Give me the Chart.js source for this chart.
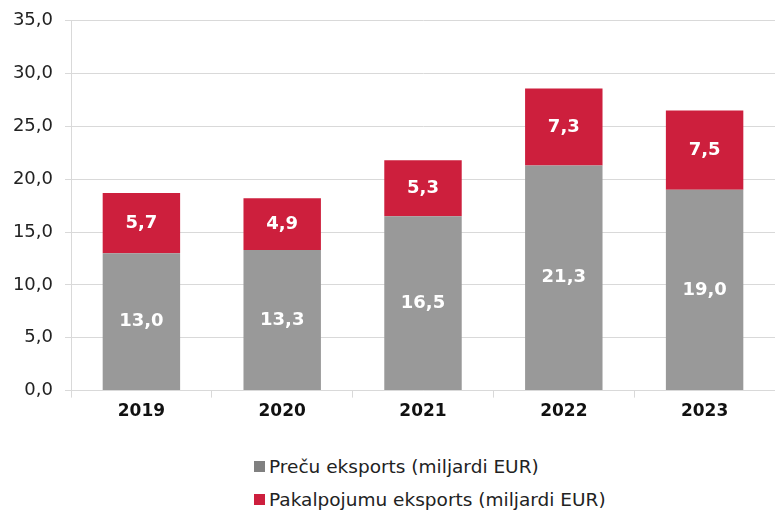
<!DOCTYPE html>
<html>
<head>
<meta charset="utf-8">
<script src="https://cdn.jsdelivr.net/npm/chart.js@4.4.1/dist/chart.umd.min.js"></script>
<style>
  html, body { margin: 0; padding: 0; background: #fff; }
  #wrap { width: 775px; height: 426px; position: relative; overflow: hidden; }
  #c { display: block; margin-top: -2px; }
  #legend { width: 775px; padding-top: 24px; font-family: "DejaVu Sans", sans-serif; font-size: 18.5px; color: #222; }
  #legend .item { display: flex; align-items: center; margin-left: 254px; height: 33px; }
  #legend .box { width: 11px; height: 11px; margin-right: 4px; }
</style>
</head>
<body>
<div id="wrap"><canvas id="c" width="775" height="428"></canvas></div>
<div id="legend"></div>
<script>
  var years = ["2019", "2020", "2021", "2022", "2023"];
  var goods = [13.0, 13.3, 16.5, 21.3, 19.0];
  var services = [5.7, 4.9, 5.3, 7.3, 7.5];
  var seriesNames = ["Preču eksports (miljardi EUR)", "Pakalpojumu eksports (miljardi EUR)"];

  var GRAY = "#999999";
  var RED = "#cd1f3d";
  var GRID = "#d9d9d9";
  var FONT = "'DejaVu Sans', sans-serif";

  function fmt(v) { return v.toFixed(1).replace(".", ","); }

  // draws the value in the middle of each bar segment
  var barValues = {
    id: "barValues",
    afterDatasetsDraw: function (chart) {
      var ctx = chart.ctx;
      ctx.save();
      ctx.fillStyle = "#fff";
      ctx.font = "bold 18px " + FONT;
      ctx.textAlign = "center";
      ctx.textBaseline = "middle";
      chart.data.datasets.forEach(function (ds, i) {
        chart.getDatasetMeta(i).data.forEach(function (bar, j) {
          var mid = (bar.y + bar.base) / 2;
          ctx.fillText(fmt(ds.data[j]), bar.x, mid);
        });
      });
      ctx.restore();
    }
  };

  var chart = new Chart(document.getElementById("c"), {
    type: "bar",
    data: {
      labels: years,
      datasets: [
        { label: seriesNames[0], data: goods, backgroundColor: GRAY, legendColor: "#808080" },
        { label: seriesNames[1], data: services, backgroundColor: RED, legendColor: RED }
      ]
    },
    options: {
      responsive: false,
      animation: false,
      layout: { padding: { top: 3, right: 0, left: 0, bottom: 0 } },
      datasets: { bar: { categoryPercentage: 0.55, barPercentage: 1.0 } },
      scales: {
        x: {
          stacked: true,
          grid: { drawOnChartArea: false, color: GRID, tickLength: 7 },
          border: { color: GRID },
          ticks: { color: "#111", padding: 4, font: { family: FONT, size: 17, weight: "bold" } }
        },
        y: {
          stacked: true,
          min: 0,
          max: 35,
          afterFit: function (scale) { scale.width = 71; },
          ticks: {
            stepSize: 5,
            color: "#222",
            padding: 12,
            font: { family: FONT, size: 18 },
            callback: function (v) { return fmt(v); }
          },
          grid: { color: GRID, tickLength: 6 },
          border: { color: GRID }
        }
      },
      plugins: {
        legend: { display: false },
        tooltip: { enabled: false }
      }
    },
    plugins: [barValues]
  });

  // two-line legend below the canvas, built from the datasets
  var legend = document.getElementById("legend");
  chart.data.datasets.forEach(function (ds) {
    var item = document.createElement("div");
    item.className = "item";
    var box = document.createElement("span");
    box.className = "box";
    box.style.background = ds.legendColor;
    var txt = document.createElement("span");
    txt.textContent = ds.label;
    item.appendChild(box);
    item.appendChild(txt);
    legend.appendChild(item);
  });
</script>
</body>
</html>
